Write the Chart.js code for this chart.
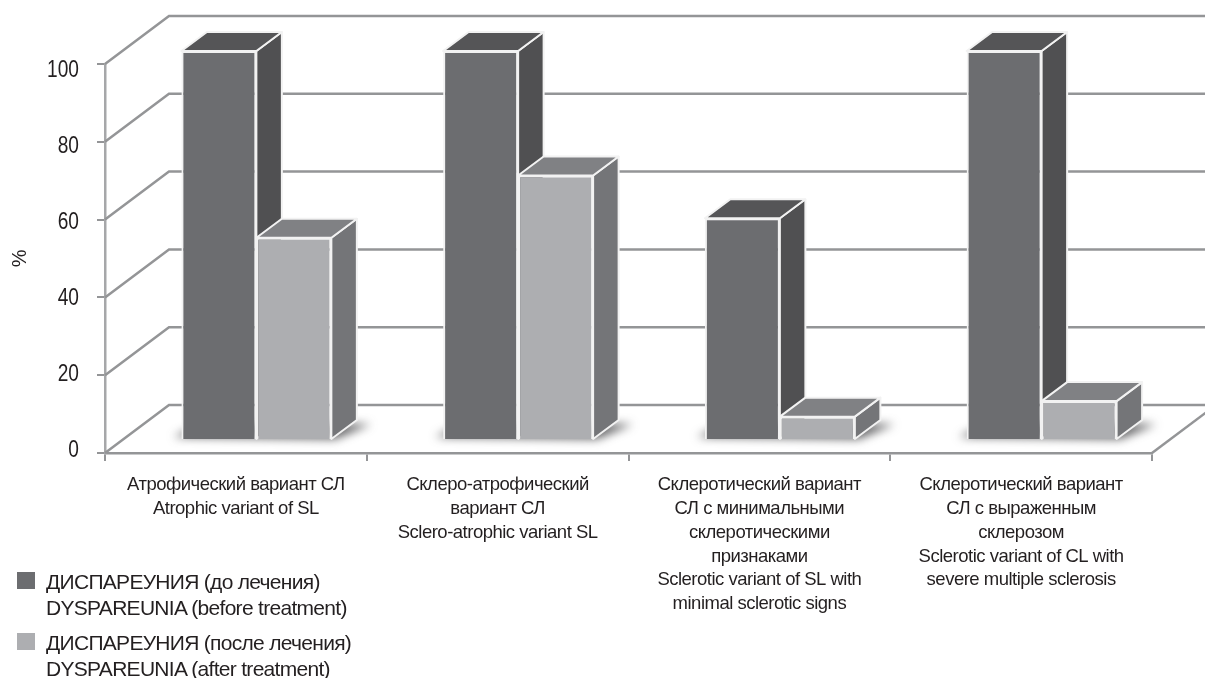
<!DOCTYPE html>
<html>
<head>
<meta charset="utf-8">
<title>Dyspareunia</title>
<script src="https://cdn.jsdelivr.net/npm/chart.js@4"></script>
<style>
  html, body { margin: 0; padding: 0; background: #fff; overflow: hidden; }
  #wrap { position: relative; width: 1205px; height: 678px; }
  #legend { position: absolute; left: 17px; top: 569px; font: 21px "Liberation Sans", Arial, sans-serif; letter-spacing: -0.7px; color: #231f20; }
  .row { position: relative; padding-left: 29px; line-height: 26px; height: 52px; margin-bottom: 9px; white-space: nowrap; }
  .row i { position: absolute; left: 0; top: 3px; width: 18px; height: 17px; }
</style>
</head>
<body>
<div id="wrap">
  <canvas id="chart" width="1205" height="678"></canvas>
  <div id="legend"></div>
</div>
<script>
const categories = [
  ['Атрофический вариант СЛ', 'Atrophic variant of SL'],
  ['Склеро-атрофический', 'вариант СЛ', 'Sclero-atrophic variant SL'],
  ['Склеротический вариант', 'СЛ с минимальными', 'склеротическими', 'признаками', 'Sclerotic variant of SL with', 'minimal sclerotic signs'],
  ['Склеротический вариант', 'СЛ с выраженным', 'склерозом', 'Sclerotic variant of CL with', 'severe multiple sclerosis'],
];
const beforeName = ['ДИСПАРЕУНИЯ (до лечения)', 'DYSPAREUNIA (before treatment)'];
const afterName = ['ДИСПАРЕУНИЯ (после лечения)', 'DYSPAREUNIA (after treatment)'];
const beforeValues = [100, 100, 57, 100];
const afterValues = [52, 68, 6, 10];

// box colours: front, side, top
const DARK = { front: '#6c6d70', side: '#505052', top: '#555557' };
const LIGHT = { front: '#adaeb1', side: '#747578', top: '#808184' };
const GRID = '#949597';
const EDGE = '#f2f2f2';
const TEXT = '#231f20';

// depth of the whole room, and where the boxes stand inside it
const ROOM_X = 64, ROOM_Y = -48;
const BOX_X = 20.5, BOX_Y = -13;
const SIDE_X = 25.5, SIDE_Y = -19;

function poly(ctx, pts) {
  ctx.beginPath();
  pts.forEach((p, i) => i ? ctx.lineTo(p[0], p[1]) : ctx.moveTo(p[0], p[1]));
  ctx.closePath();
}

// back wall, left wall and floor
function drawRoom(chart) {
  const { ctx, chartArea: a, scales } = chart;
  ctx.save();
  ctx.strokeStyle = GRID;
  ctx.lineWidth = 2.5;
  scales.y.ticks.forEach(t => {
    const y = scales.y.getPixelForValue(t.value);
    ctx.beginPath();
    ctx.moveTo(a.left, y);
    ctx.lineTo(a.left + ROOM_X, y + ROOM_Y);
    ctx.lineTo(a.right + ROOM_X, y + ROOM_Y);
    ctx.stroke();
  });
  ctx.beginPath();
  ctx.moveTo(a.right, a.bottom);
  ctx.lineTo(a.right + ROOM_X, a.bottom + ROOM_Y);
  ctx.stroke();
  ctx.restore();
}

// soft shadow on the floor under each pair of boxes
function drawShadows(chart) {
  const { ctx, scales } = chart;
  const d = chart.getDatasetMeta(0).data, l = chart.getDatasetMeta(1).data;
  const y0 = scales.y.getPixelForValue(0) + BOX_Y;
  ctx.save();
  ctx.filter = 'blur(5px)';
  ctx.fillStyle = 'rgba(60,60,62,0.8)';
  d.forEach((bar, i) => {
    const left = bar.x - bar.width / 2 + BOX_X;
    const right = l[i].x + l[i].width / 2 + BOX_X;
    poly(ctx, [[left - 8, y0 - 3], [right + 4, y0 - 1], [right + SIDE_X + 14, y0 + SIDE_Y + 3], [left + 20, y0 + SIDE_Y + 3]]);
    ctx.fill();
  });
  ctx.restore();
}

// side and top faces of one dataset's boxes, from the bars the library laid out
function drawFaces(ctx, meta, tone) {
  ctx.strokeStyle = EDGE;
  ctx.lineWidth = 2;
  ctx.lineJoin = 'round';
  meta.data.forEach(bar => {
    const l = bar.x - bar.width / 2, r = bar.x + bar.width / 2;
    poly(ctx, [[r, bar.y], [r + SIDE_X, bar.y + SIDE_Y], [r + SIDE_X, bar.base + SIDE_Y], [r, bar.base]]);
    ctx.fillStyle = tone.side;
    ctx.fill();
    ctx.stroke();
    poly(ctx, [[l, bar.y], [l + SIDE_X, bar.y + SIDE_Y], [r + SIDE_X, bar.y + SIDE_Y], [r, bar.y]]);
    ctx.fillStyle = tone.top;
    ctx.fill();
    ctx.stroke();
  });
}

// the library paints dataset 1 before dataset 0, so the dark boxes' faces go
// down first and the lighter boxes can sit in front of them
const room3d = {
  id: 'room3d',
  beforeDraw(chart) {
    chart.ctx.letterSpacing = '-0.5px'; // tightens the category labels
  },
  beforeDatasetsDraw(chart) {
    const ctx = chart.ctx;
    drawRoom(chart);
    drawShadows(chart);
    ctx.save();
    ctx.translate(BOX_X, BOX_Y);
    drawFaces(ctx, chart.getDatasetMeta(0), DARK);
    ctx.restore();
  },
  beforeDatasetDraw(chart) {
    chart.ctx.save();
    chart.ctx.translate(BOX_X, BOX_Y);
  },
  afterDatasetDraw(chart, args) {
    if (args.index === 1) drawFaces(chart.ctx, args.meta, LIGHT);
    chart.ctx.restore();
  },
  // y tick labels sit on layer z:1, so they are painted right after this hook;
  // the transform condenses them around their right edge
  afterDatasetsDraw(chart) {
    const ctx = chart.ctx;
    ctx.save();
    ctx.letterSpacing = '0px';
    ctx.translate(79, 238);
    ctx.scale(0.78, 0.977);
    ctx.translate(-79, -236);
  },
  afterDraw(chart) {
    chart.ctx.restore();
  },
};

const sans = '"Liberation Sans", Arial, sans-serif';

new Chart(document.getElementById('chart'), {
  type: 'bar',
  data: {
    labels: categories,
    datasets: [
      { label: beforeName.join(' '), data: beforeValues, backgroundColor: DARK.front, borderColor: EDGE, borderWidth: 2 },
      { label: afterName.join(' '), data: afterValues, backgroundColor: LIGHT.front, borderColor: EDGE, borderWidth: 2 },
    ],
  },
  options: {
    responsive: false,
    animation: false,
    layout: { padding: { top: 64, right: 53 } },
    datasets: { bar: { barPercentage: 1, categoryPercentage: 0.573 } },
    plugins: { legend: { display: false }, tooltip: { enabled: false } },
    scales: {
      x: {
        afterFit(s) { s.height = 225; },
        grid: { drawOnChartArea: false, color: GRID, lineWidth: 2, tickLength: 8 },
        border: { color: GRID, width: 2.5 },
        ticks: {
          autoSkip: false, maxRotation: 0, minRotation: 0, padding: 12, color: TEXT,
          font: { family: sans, size: 18.5, lineHeight: 1.29 },
        },
      },
      y: {
        min: 0, max: 100,
        afterFit(s) { s.width = 105; },
        grid: { drawOnChartArea: false, color: GRID, lineWidth: 2, tickLength: 8 },
        border: { color: '#a6a7a9', width: 2.5 },
        ticks: {
          stepSize: 20, padding: 18, color: TEXT, z: 1,
          font: { family: sans, size: 24.5 },
        },
        title: {
          display: true, text: '%', color: TEXT, padding: { top: 8, bottom: 0 },
          font: { family: sans, size: 20 },
        },
      },
    },
  },
  plugins: [room3d],
});

// two-line legend below the plot
const legend = document.getElementById('legend');
[[beforeName, DARK.front], [afterName, LIGHT.front]].forEach(([lines, colour]) => {
  const row = document.createElement('div');
  row.className = 'row';
  row.innerHTML = `<i style="background:${colour}"></i>${lines.join('<br>')}`;
  legend.appendChild(row);
});
</script>
</body>
</html>
